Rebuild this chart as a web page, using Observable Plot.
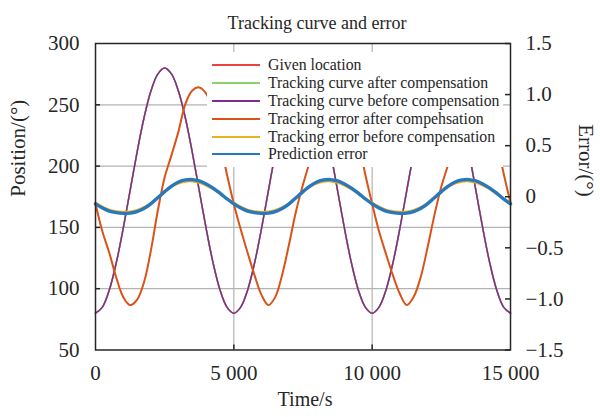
<!DOCTYPE html>
<html><head><meta charset="utf-8">
<script src="https://cdn.jsdelivr.net/npm/d3@7"></script>
<script src="https://cdn.jsdelivr.net/npm/@observablehq/plot@0.6"></script>
<style>
body{margin:0;background:#fff;}
#wrap{position:relative;width:600px;height:417px;font-family:"Liberation Serif","Times New Roman",serif;}
#legend{position:absolute;left:207px;top:52px;width:296px;height:115px;background:#fff;box-sizing:border-box;padding-top:4px;}
.row{display:flex;align-items:center;height:17.9px;font-size:15.8px;color:#262626;white-space:nowrap;}
.sw{width:48px;height:0;border-top:2px solid;margin-left:5px;margin-right:8px;}
</style></head><body><div id="wrap"></div>
<script>
const title = "Tracking curve and error";
const xLabel = "Time/s";
const yLabelLeft = "Position/(°)";
const yLabelRight = "Error/(°)";

const seriesNames = ["Given location", "Tracking curve after compensation", "Tracking curve before compensation", "Tracking error after compehsation", "Tracking error before compensation", "Prediction error"];
const seriesColors = ["#e8433c", "#8bd06a", "#7e2f8e", "#d95319", "#edb120", "#2878be"];

const leftDomain = [50, 300];
const rightDomain = [-1.5, 1.5];
const xTicks = [0, 5000, 10000, 15000];
const xTickLabels = ["0", "5 000", "10 000", "15 000"];
const xGrid = [5000, 10000];
const yTicks = [50, 100, 150, 200, 250, 300];
const yGrid = [100, 150, 200, 250];
const errTicks = [-1.5, -1, -0.5, 0, 0.5, 1, 1.5];
const errTickLabels = ["\u22121.5", "\u22121.0", "\u22120.5", "0", "0.5", "1.0", "1.5"];

const time = [0,250,500,750,1000,1250,1500,1750,2000,2250,2500,2750,3000,3250,3500,3750,4000,4250,4500,4750,5000,5250,5500,5750,6000,6250,6500,6750,7000,7250,7500,7750,8000,8250,8500,8750,9000,9250,9500,9750,10000,10250,10500,10750,11000,11250,11500,11750,12000,12250,12500,12750,13000,13250,13500,13750,14000,14250,14500,14750,15000];

// positions (°), left axis
const givenLocation = [80,85,99,121,149,180,211,239,261,275,280,275,261,239,211,180,149,121,99,85,80,85,99,121,149,180,211,239,261,275,280,275,261,239,211,180,149,121,99,85,80,85,99,121,149,180,211,239,261,275,280,275,261,239,211,180,149,121,99,85,80];
const trackAfter = [80,85,99,121,149,180,211,239,261,275,280,275,261,239,211,180,149,121,99,85,80,85,99,121,149,180,211,239,261,275,280,275,261,239,211,180,149,121,99,85,80,85,99,121,149,180,211,239,261,275,280,275,261,239,211,180,149,121,99,85,80];
const trackBefore = [80,85,99,121,149,180,211,239,261,275,280,275,261,239,211,180,149,121,99,85,80,85,99,121,149,180,211,239,261,275,280,275,261,239,211,180,149,121,99,85,80,85,99,121,149,180,211,239,261,275,280,275,261,239,211,180,149,121,99,85,80];

// errors (°), right axis
const errAfter = [-0.07,-0.34,-0.55,-0.79,-0.98,-1.06,-1.01,-0.84,-0.53,-0.14,0.19,0.41,0.64,0.91,1.04,1.07,1.01,0.84,0.54,0.22,
  -0.07,-0.32,-0.55,-0.77,-0.96,-1.06,-0.98,-0.76,-0.46,-0.14,0.12,0.35,0.60,0.85,1.01,1.07,1.02,0.84,0.55,0.22,
  -0.07,-0.34,-0.56,-0.77,-0.95,-1.06,-0.98,-0.79,-0.50,-0.18,0.10,0.32,0.59,0.85,1.01,1.07,1.02,0.84,0.54,0.23,
  -0.06];
const errBefore = [-0.06,-0.10,-0.13,-0.145,-0.15,-0.148,-0.133,-0.105,-0.063,-0.005,0.05,0.098,0.133,0.15,0.153,0.14,0.113,0.076,0.03,-0.02,
  -0.06,-0.10,-0.13,-0.145,-0.15,-0.148,-0.133,-0.105,-0.063,-0.005,0.05,0.098,0.133,0.15,0.153,0.14,0.113,0.076,0.03,-0.02,
  -0.06,-0.10,-0.13,-0.145,-0.15,-0.148,-0.133,-0.105,-0.063,-0.005,0.05,0.098,0.133,0.15,0.153,0.14,0.113,0.076,0.03,-0.02,
  -0.06];
const predError = [-0.07,-0.11,-0.14,-0.155,-0.163,-0.16,-0.145,-0.115,-0.07,-0.01,0.05,0.105,0.145,0.165,0.168,0.155,0.125,0.085,0.035,-0.02,
  -0.07,-0.11,-0.14,-0.155,-0.163,-0.16,-0.145,-0.115,-0.07,-0.01,0.05,0.105,0.145,0.165,0.168,0.155,0.125,0.085,0.035,-0.02,
  -0.07,-0.11,-0.14,-0.155,-0.163,-0.16,-0.145,-0.115,-0.07,-0.01,0.05,0.105,0.145,0.165,0.168,0.155,0.125,0.085,0.035,-0.02,
  -0.07];

// map right-axis (error) values onto the shared left y scale
const errToY = e => leftDomain[0] + (e - rightDomain[0]) * (leftDomain[1] - leftDomain[0]) / (rightDomain[1] - rightDomain[0]);
const rightTickVals = errTicks.map(errToY);

const posRows = vals => time.map((t, i) => ({t, v: vals[i]}));
const errRows = vals => time.map((t, i) => ({t, v: errToY(vals[i])}));

const series = [
  {rows: posRows(givenLocation), w: 1.5},
  {rows: posRows(trackAfter), w: 1.5},
  {rows: posRows(trackBefore), w: 1.5},
  {rows: errRows(errAfter), w: 2},
  {rows: errRows(errBefore), w: 2.6},
  {rows: errRows(predError), w: 3.4}
];

const ink = "#262626";
const fontFamily = '"Liberation Serif", "Times New Roman", serif';

const plot = Plot.plot({
  width: 600, height: 417,
  marginTop: 43, marginBottom: 67.5, marginLeft: 95, marginRight: 90,
  style: {fontFamily, fontSize: "21px", color: ink, background: "#fff"},
  x: {domain: [0, 15000]},
  y: {domain: leftDomain},
  marks: [
    Plot.gridX(xGrid, {stroke: "#b3b3b3", strokeOpacity: 1, strokeWidth: 1.2}),
    Plot.gridY(yGrid, {stroke: "#b3b3b3", strokeOpacity: 1, strokeWidth: 1.2}),
    ...series.map((s, i) => Plot.line(s.rows, {x: "t", y: "v", stroke: seriesColors[i], strokeWidth: s.w, curve: "catmull-rom"})),
    Plot.frame({stroke: ink, strokeWidth: 1.5}),
    Plot.tickY(yGrid, {y: d => d, insetRight: 410, stroke: ink, strokeWidth: 1.5}),
    Plot.tickY(rightTickVals, {y: d => d, insetLeft: 410, stroke: ink, strokeWidth: 1.5}),
    Plot.tickX(xGrid, {x: d => d, insetTop: 301.5, stroke: ink, strokeWidth: 1.5}),
    Plot.axisX({ticks: xTicks, tickFormat: d => xTickLabels[xTicks.indexOf(d)], tickSize: 0, tickPadding: 15, label: null, fontSize: 21}),
    Plot.axisY({anchor: "left", ticks: yTicks, tickSize: 0, tickPadding: 16, label: null, fontSize: 21}),
    Plot.axisY({anchor: "right", ticks: rightTickVals, tickFormat: d => errTickLabels[rightTickVals.indexOf(d)], tickSize: 0, tickPadding: 15, label: null, fontSize: 21}),
    Plot.text([title], {frameAnchor: "top", dy: -27, dx: 14, fontSize: 18, fill: ink}),
    Plot.text([xLabel], {frameAnchor: "bottom", dy: 55.5, dx: 2, fontSize: 20, fill: ink}),
    Plot.text([yLabelLeft], {frameAnchor: "left", dx: -77, rotate: -90, fontSize: 21, fill: ink}),
    Plot.text([yLabelRight], {frameAnchor: "right", dx: 75, rotate: 90, fontSize: 21, fill: ink})
  ]
});

const wrap = document.getElementById("wrap");
wrap.appendChild(plot);

const legend = document.createElement("div");
legend.id = "legend";
seriesNames.forEach((name, i) => {
  const row = document.createElement("div");
  row.className = "row";
  const sw = document.createElement("span");
  sw.className = "sw";
  sw.style.borderTopColor = seriesColors[i];
  const label = document.createElement("span");
  label.textContent = name;
  row.appendChild(sw);
  row.appendChild(label);
  legend.appendChild(row);
});
wrap.appendChild(legend);
</script>
</body></html>
